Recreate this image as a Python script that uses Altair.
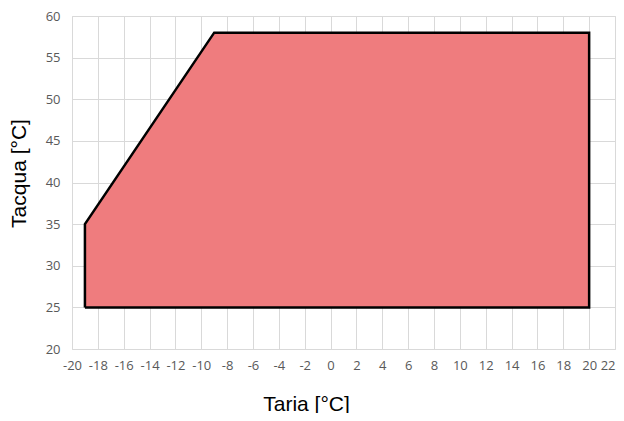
import altair as alt
import pandas as pd

# Envelope boundary points (Taria, Tacqua)
upper_x = [-19, -9, 20]
upper_y = [35, 58, 58]
lower_y = [25, 25, 25]

outline_x = [-19, -19, -9, 20, 20, -19]
outline_y = [25, 35, 58, 58, 25, 25]

x_ticks = list(range(-20, 23, 2))
y_ticks = list(range(20, 61, 5))

area_df = pd.DataFrame({"x": upper_x, "y": upper_y, "y2": lower_y})
line_df = pd.DataFrame({"x": outline_x, "y": outline_y, "o": list(range(len(outline_x)))})

xscale = alt.Scale(domain=[-20, 22], nice=False, zero=False)
yscale = alt.Scale(domain=[20, 60], nice=False, zero=False)

xaxis = alt.Axis(values=x_ticks, title="Taria [°C]", grid=True, gridColor="#d9d9d9",
                 domain=False, ticks=False, labelPadding=10, labelFontSize=13,
                 labelColor="#595959", labelFont="Open Sans", titleFont="Liberation Sans",
                 titleFontSize=21, titleFontWeight="normal", titleColor="#000000",
                 titlePadding=21, labelFlush=False, labelOverlap=False,
                 labelAlign={"condition": {"test": "datum.value == 22", "value": "right"}, "value": "center"},
                 labelExpr="'' + datum.value", titleX=234, titleAlign="center")
yaxis = alt.Axis(values=y_ticks, title="Tacqua [°C]", grid=True, gridColor="#d9d9d9",
                 domain=False, ticks=False, labelPadding=12, labelFontSize=13,
                 labelColor="#595959", labelFont="Open Sans", titleFont="Liberation Sans",
                 titleFontSize=21, titleFontWeight="normal", titleColor="#000000",
                 titlePadding=16, labelFlush=False, labelOverlap=False,
                 labelExpr="'' + datum.value", titleY=157, titleAlign="center")

area = alt.Chart(area_df).mark_area(color="#EF7C7E", opacity=1, interpolate="linear").encode(
    x=alt.X("x:Q", scale=xscale, axis=xaxis),
    y=alt.Y("y:Q", scale=yscale, axis=yaxis),
    y2="y2:Q",
)

outline = alt.Chart(line_df).mark_line(color="#000000", strokeWidth=2.5, strokeJoin="miter").encode(
    x=alt.X("x:Q", scale=xscale, axis=xaxis),
    y=alt.Y("y:Q", scale=yscale, axis=yaxis),
    order="o:Q",
)

chart = (area + outline).properties(
    width=543, height=333,
    autosize=alt.AutoSizeParams(type="none"),
    padding={"left": 64, "top": 8, "right": 1, "bottom": 64},
).configure_view(stroke=None).configure(background="#ffffff")

chart.save("out.html", embed_options={"renderer": "svg", "actions": False})
